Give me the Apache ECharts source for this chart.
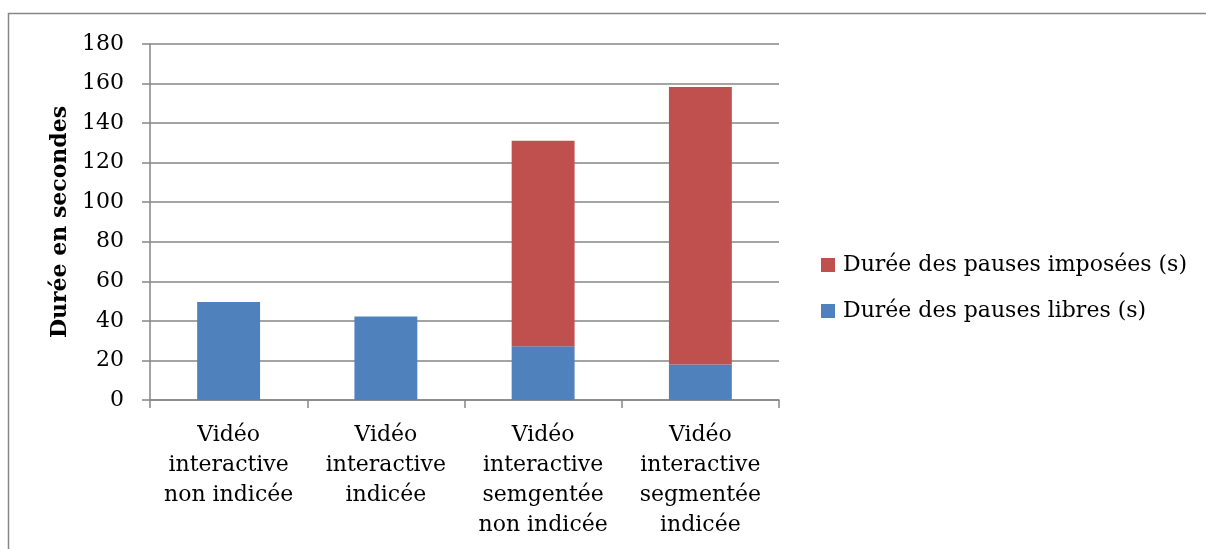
<!DOCTYPE html>
<html><head><meta charset="utf-8">
<script src="https://cdn.jsdelivr.net/npm/echarts@6/dist/echarts.min.js"></script>
<style>html,body{margin:0;padding:0;background:#fff}#c{width:1206px;height:549px}</style>
</head><body><div id="c"></div>
<script>
const categories = ['Vidéo\ninteractive\nnon indicée', 'Vidéo\ninteractive\nindicée', 'Vidéo\ninteractive\nsemgentée\nnon indicée', 'Vidéo\ninteractive\nsegmentée\nindicée'];
const pausesLibres = [49.5, 42.2, 27.2, 17.9];
const pausesImposees = [0, 0, 103.9, 140.4];
const seriesNames = ['Durée des pauses libres (s)', 'Durée des pauses imposées (s)'];
const yTitle = 'Durée en secondes';

const font = '"DejaVu Serif", "Liberation Serif", serif';
const chart = echarts.init(document.getElementById('c'), null, {renderer: 'canvas'});
chart.setOption({
  animation: false,
  textStyle: {fontFamily: font, color: '#000'},
  graphic: [{type: 'rect', shape: {x: 8.5, y: 13.5, width: 1250, height: 600},
    style: {fill: null, stroke: '#868686', lineWidth: 1.5}, silent: true}],
  grid: {left: 150, right: 427, top: 44, bottom: 149},
  legend: {
    orient: 'vertical', left: 816, top: 249, itemWidth: 14, itemHeight: 14, itemGap: 24,
    data: [seriesNames[1], seriesNames[0]],
    textStyle: {fontFamily: font, fontSize: 22, color: '#000', padding: [0, 0, 0, 3]},
    icon: 'rect'
  },
  xAxis: {
    type: 'category', data: categories,
    axisLine: {lineStyle: {color: '#868686', width: 1.5}},
    axisTick: {show: true, length: 8, lineStyle: {color: '#868686', width: 1.5}},
    axisLabel: {fontFamily: font, fontSize: 22, color: '#000', lineHeight: 30, margin: 20, interval: 0}
  },
  yAxis: {
    type: 'value', min: 0, max: 180, interval: 20,
    name: yTitle, nameLocation: 'middle', nameGap: 79, nameRotate: 90,
    nameTextStyle: {fontFamily: font, fontSize: 22, fontWeight: 'bold', color: '#000'},
    axisLine: {show: true, lineStyle: {color: '#868686', width: 1.5}},
    axisTick: {show: true, length: 8, lineStyle: {color: '#868686', width: 1.5}},
    axisLabel: {fontFamily: font, fontSize: 22, color: '#000', margin: 26},
    splitLine: {lineStyle: {color: '#868686', width: 1.5}}
  },
  series: [
    {name: seriesNames[0], type: 'bar', stack: 's', data: pausesLibres, barWidth: '40%',
     itemStyle: {color: '#4F81BD'}},
    {name: seriesNames[1], type: 'bar', stack: 's', data: pausesImposees, barWidth: '40%',
     itemStyle: {color: '#C0504D'}}
  ]
});
</script></body></html>
